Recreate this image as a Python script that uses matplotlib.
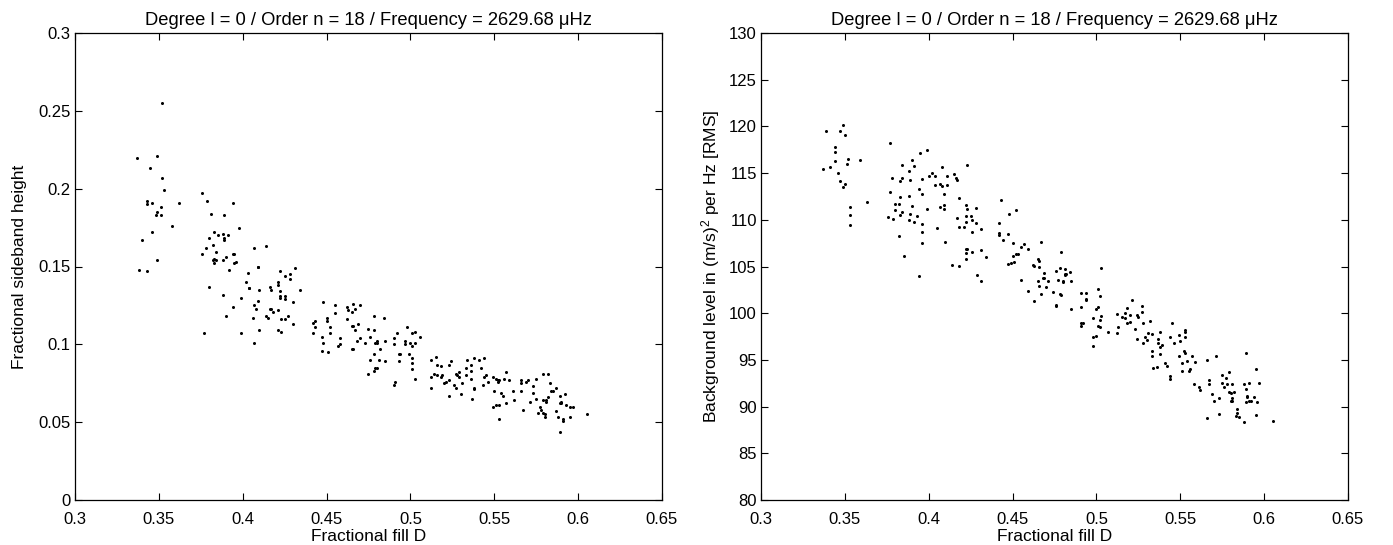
import numpy as np
import matplotlib
matplotlib.use('Agg')
import matplotlib.pyplot as plt
from matplotlib.ticker import FormatStrFormatter

plt.rcParams['font.family'] = ['Liberation Sans', 'DejaVu Sans']
plt.rcParams['mathtext.fontset'] = 'custom'
plt.rcParams['mathtext.rm'] = 'Liberation Sans'
plt.rcParams['mathtext.it'] = 'Liberation Sans'

title = 'Degree l = 0 / Order n = 18 / Frequency = 2629.68 \u03bcHz'

# left panel: fractional fill D vs fractional sideband height
fill_left = [
    0.352, 0.337, 0.349, 0.345, 0.352, 0.353, 0.376, 0.379, 0.394, 0.343, 0.343, 0.346, 0.351, 0.362,
    0.349, 0.348, 0.351, 0.381, 0.389, 0.358, 0.398, 0.346, 0.340, 0.383, 0.388, 0.385, 0.391, 0.380,
    0.389, 0.389, 0.382, 0.378, 0.407, 0.414, 0.376, 0.384, 0.394, 0.395, 0.382, 0.383, 0.384, 0.388,
    0.390, 0.396, 0.395, 0.383, 0.349, 0.338, 0.343, 0.392, 0.409, 0.409, 0.403, 0.402, 0.404, 0.404,
    0.410, 0.380, 0.388, 0.399, 0.409, 0.407, 0.408, 0.394, 0.416, 0.414, 0.415, 0.406, 0.390, 0.377,
    0.399, 0.410, 0.407,
    0.416, 0.417, 0.422, 0.431, 0.425, 0.428, 0.428, 0.421, 0.421, 0.422, 0.434, 0.422, 0.422, 0.425,
    0.425, 0.430, 0.417, 0.418, 0.421, 0.423, 0.425, 0.427, 0.430, 0.421, 0.423, 0.448, 0.455, 0.455,
    0.450, 0.442, 0.443, 0.450, 0.443, 0.452, 0.442, 0.452, 0.447, 0.458, 0.448, 0.447, 0.451, 0.457,
    0.458, 0.462, 0.463, 0.466, 0.467, 0.470, 0.465, 0.462, 0.465, 0.466, 0.469, 0.467, 0.470, 0.468,
    0.465, 0.466, 0.478, 0.484, 0.475, 0.478, 0.476, 0.479, 0.480, 0.480, 0.485, 0.473, 0.482, 0.478,
    0.476, 0.481, 0.485, 0.479, 0.480, 0.478, 0.475, 0.491, 0.490, 0.492, 0.490, 0.490, 0.493, 0.494,
    0.493, 0.498, 0.501, 0.503, 0.497, 0.497, 0.500, 0.501, 0.503, 0.499, 0.501, 0.501, 0.501, 0.503,
    0.506, 0.512, 0.515, 0.516, 0.518, 0.523, 0.524, 0.512, 0.514, 0.516, 0.518, 0.519, 0.520, 0.521,
    0.512, 0.523, 0.526, 0.527, 0.527, 0.528, 0.529, 0.529, 0.531, 0.533, 0.534, 0.536, 0.536, 0.533,
    0.536, 0.538, 0.541, 0.544, 0.542, 0.545, 0.544, 0.538, 0.538, 0.543, 0.546, 0.523, 0.530, 0.537,
    0.549, 0.551, 0.552, 0.552, 0.553, 0.557, 0.556, 0.559, 0.566, 0.566, 0.569, 0.570, 0.575, 0.579,
    0.582, 0.550, 0.554, 0.555, 0.561, 0.566, 0.573, 0.573, 0.583, 0.584, 0.585, 0.587, 0.592, 0.549,
    0.551, 0.553, 0.557, 0.562, 0.571, 0.575, 0.579, 0.581, 0.582, 0.581, 0.589, 0.589, 0.590, 0.590,
    0.593, 0.595, 0.597, 0.567, 0.577, 0.578, 0.579, 0.576, 0.580, 0.580, 0.587, 0.588, 0.591, 0.591,
    0.595, 0.605, 0.553, 0.589,
]
sideband = [
    0.255, 0.220, 0.221, 0.213, 0.207, 0.199, 0.197, 0.192, 0.191, 0.192, 0.190, 0.191, 0.188, 0.191,
    0.185, 0.183, 0.183, 0.184, 0.183, 0.176, 0.175, 0.172, 0.167, 0.172, 0.171, 0.170, 0.170, 0.168,
    0.168, 0.167, 0.164, 0.162, 0.162, 0.163, 0.158, 0.159, 0.158, 0.158, 0.154, 0.155, 0.154, 0.154,
    0.156, 0.153, 0.152, 0.152, 0.154, 0.148, 0.147, 0.148, 0.150, 0.150, 0.146, 0.140, 0.136, 0.136,
    0.135, 0.137, 0.132, 0.130, 0.128, 0.125, 0.123, 0.124, 0.123, 0.118, 0.117, 0.117, 0.118, 0.107,
    0.107, 0.109, 0.101,
    0.137, 0.135, 0.147, 0.149, 0.144, 0.145, 0.142, 0.140, 0.138, 0.134, 0.135, 0.131, 0.130, 0.131,
    0.129, 0.127, 0.123, 0.121, 0.122, 0.116, 0.116, 0.118, 0.113, 0.109, 0.108, 0.127, 0.125, 0.120,
    0.117, 0.114, 0.115, 0.115, 0.111, 0.111, 0.107, 0.107, 0.105, 0.104, 0.101, 0.096, 0.095, 0.099,
    0.100, 0.124, 0.122, 0.126, 0.123, 0.125, 0.121, 0.116, 0.112, 0.112, 0.113, 0.109, 0.104, 0.102,
    0.097, 0.097, 0.118, 0.117, 0.110, 0.109, 0.105, 0.101, 0.101, 0.102, 0.102, 0.101, 0.097, 0.094,
    0.090, 0.090, 0.089, 0.085, 0.085, 0.083, 0.081, 0.076, 0.074, 0.107, 0.104, 0.100, 0.094, 0.094,
    0.089, 0.111, 0.107, 0.108, 0.102, 0.100, 0.101, 0.099, 0.101, 0.094, 0.091, 0.088, 0.084, 0.078,
    0.105, 0.090, 0.092, 0.087, 0.086, 0.087, 0.089, 0.079, 0.081, 0.080, 0.079, 0.080, 0.075, 0.076,
    0.072, 0.077, 0.074, 0.072, 0.081, 0.080, 0.082, 0.079, 0.075, 0.085, 0.090, 0.087, 0.083, 0.080,
    0.078, 0.091, 0.090, 0.091, 0.085, 0.080, 0.079, 0.072, 0.071, 0.074, 0.076, 0.067, 0.068, 0.065,
    0.079, 0.078, 0.077, 0.076, 0.077, 0.082, 0.078, 0.077, 0.077, 0.075, 0.076, 0.077, 0.078, 0.081,
    0.081, 0.070, 0.069, 0.067, 0.070, 0.070, 0.073, 0.069, 0.075, 0.070, 0.070, 0.072, 0.068, 0.060,
    0.061, 0.061, 0.062, 0.064, 0.063, 0.065, 0.064, 0.064, 0.066, 0.063, 0.067, 0.062, 0.063, 0.062,
    0.061, 0.060, 0.060, 0.058, 0.060, 0.058, 0.056, 0.056, 0.055, 0.053, 0.057, 0.053, 0.052, 0.051,
    0.053, 0.055, 0.052, 0.044,
]

# right panel: fractional fill D vs background level
fill_right = [
    0.349, 0.339, 0.347, 0.350, 0.344, 0.344, 0.344, 0.352, 0.351, 0.359, 0.341, 0.337, 0.346, 0.347,
    0.350, 0.349, 0.363, 0.353, 0.353, 0.353, 0.377, 0.395, 0.399, 0.390, 0.384, 0.391, 0.388, 0.378,
    0.384, 0.383, 0.389, 0.396, 0.400, 0.402, 0.404, 0.408, 0.411, 0.415, 0.416, 0.417, 0.404, 0.407,
    0.408, 0.411, 0.423, 0.377, 0.383, 0.388, 0.394, 0.396, 0.409, 0.380, 0.382, 0.390, 0.380, 0.384,
    0.383, 0.389, 0.393, 0.376, 0.379, 0.388, 0.391, 0.399, 0.407, 0.409, 0.409, 0.418, 0.422, 0.423,
    0.396, 0.405, 0.396, 0.382, 0.396, 0.410, 0.385, 0.394, 0.417, 0.422, 0.422, 0.418, 0.421, 0.422,
    0.423, 0.422, 0.422, 0.414, 0.418,
    0.443, 0.428, 0.425, 0.426, 0.428, 0.431, 0.426, 0.442, 0.448, 0.452, 0.442, 0.442, 0.447, 0.444,
    0.450, 0.455, 0.457, 0.459, 0.467, 0.426, 0.431, 0.434, 0.450, 0.452, 0.453, 0.447, 0.449, 0.451,
    0.462, 0.463, 0.465, 0.466, 0.466, 0.479, 0.429, 0.431, 0.455, 0.469, 0.468, 0.469, 0.465, 0.471,
    0.459, 0.466, 0.470, 0.467, 0.474, 0.463, 0.476, 0.478, 0.481, 0.481, 0.481, 0.482, 0.484, 0.477,
    0.480, 0.480, 0.485, 0.478, 0.479, 0.476, 0.476, 0.485, 0.503, 0.491, 0.494, 0.501, 0.502, 0.494,
    0.494, 0.491, 0.501, 0.500, 0.498, 0.503, 0.502, 0.491, 0.492, 0.491, 0.501, 0.502, 0.507, 0.498,
    0.500, 0.498, 0.512, 0.513, 0.512,
    0.521, 0.518, 0.527, 0.517, 0.515, 0.517, 0.520, 0.524, 0.525, 0.527, 0.520, 0.518, 0.528, 0.532,
    0.545, 0.523, 0.531, 0.533, 0.538, 0.529, 0.530, 0.524, 0.528, 0.537, 0.537, 0.539, 0.538, 0.544,
    0.549, 0.553, 0.553, 0.553, 0.550, 0.546, 0.533, 0.533, 0.538, 0.534, 0.536, 0.541, 0.542, 0.544,
    0.544, 0.549, 0.552, 0.553, 0.554, 0.551, 0.557, 0.559, 0.556, 0.555, 0.551, 0.566, 0.571, 0.589,
    0.558, 0.561, 0.562, 0.567, 0.567, 0.569, 0.573, 0.570, 0.575, 0.577, 0.579, 0.575, 0.578, 0.581,
    0.576, 0.579, 0.580, 0.582, 0.581, 0.580, 0.581, 0.588, 0.591, 0.589, 0.595, 0.597, 0.590, 0.590,
    0.594, 0.589, 0.591, 0.592, 0.596, 0.584, 0.584, 0.583, 0.585, 0.588, 0.573, 0.566, 0.595, 0.605,
]
background = [
    120.2, 119.5, 119.5, 119.1, 117.8, 117.3, 116.3, 116.5, 116.0, 116.4, 115.6, 115.4, 115.0, 114.2,
    113.8, 113.5, 111.9, 111.4, 110.5, 109.4, 118.2, 117.2, 117.5, 116.4, 115.9, 115.8, 115.2, 114.5,
    114.5, 114.2, 114.3, 114.4, 114.7, 115.0, 114.7, 115.6, 114.7, 114.9, 114.5, 114.3, 113.7, 113.8,
    113.6, 113.7, 115.9, 113.0, 112.4, 112.5, 113.3, 112.8, 112.8, 111.7, 111.7, 111.5, 111.0, 110.8,
    110.5, 110.6, 110.4, 110.3, 110.1, 110.0, 109.8, 111.2, 111.4, 111.6, 111.2, 112.3, 111.6, 111.2,
    109.5, 109.1, 108.7, 108.3, 107.5, 107.6, 106.1, 104.0, 110.2, 110.4, 109.8, 109.2, 109.2, 106.9,
    106.9, 106.4, 105.8, 105.2, 105.1,
    112.1, 111.3, 110.4, 110.0, 109.7, 109.0, 108.7, 109.7, 110.6, 111.1, 108.6, 108.4, 108.5, 107.8,
    107.5, 107.1, 107.4, 106.9, 107.6, 106.6, 106.8, 106.0, 106.1, 106.3, 106.3, 105.3, 105.4, 105.5,
    105.2, 105.1, 105.8, 105.6, 104.9, 106.6, 104.1, 103.4, 103.6, 104.3, 103.8, 103.8, 103.5, 103.5,
    102.4, 102.9, 102.8, 102.1, 102.3, 101.3, 104.5, 104.8, 104.7, 104.2, 104.1, 104.2, 104.4, 103.6,
    103.5, 103.3, 103.5, 102.1, 101.95, 100.9, 100.8, 100.5, 104.8, 102.2, 102.2, 102.6, 101.8, 101.5,
    101.4, 100.7, 100.7, 100.5, 99.5, 99.7, 99.3, 98.9, 98.9, 98.6, 98.6, 98.5, 98.0, 97.5,
    97.6, 96.5, 99.9, 98.5, 97.9,
    101.4, 100.6, 100.8, 100.0, 99.6, 99.5, 99.8, 99.8, 99.6, 100.1, 99.1, 98.9, 98.9, 99.2,
    99.0, 98.3, 97.9, 97.8, 98.0, 97.5, 97.1, 97.2, 96.8, 97.2, 96.8, 96.6, 96.4, 97.4,
    97.7, 98.2, 98.0, 97.5, 97.0, 96.8, 96.0, 95.4, 95.6, 94.1, 94.2, 94.7, 94.3, 93.3,
    93.0, 95.4, 96.0, 95.7, 94.9, 94.7, 95.4, 94.8, 94.0, 93.8, 93.8, 95.0, 95.4, 95.7,
    92.4, 92.1, 91.8, 92.8, 92.4, 91.4, 90.9, 90.6, 93.4, 93.1, 93.7, 92.5, 92.4, 92.4,
    92.1, 91.6, 91.5, 91.6, 90.9, 90.6, 90.6, 92.4, 92.5, 91.9, 94.0, 92.5, 91.1, 91.0,
    91.0, 90.5, 90.6, 90.6, 90.5, 89.7, 89.3, 89.0, 88.9, 88.4, 89.2, 88.8, 89.1, 88.5,
]

x_ticks = [0.3, 0.35, 0.4, 0.45, 0.5, 0.55, 0.6, 0.65]
left_yticks = [0, 0.05, 0.1, 0.15, 0.2, 0.25, 0.3]
right_yticks = [80, 85, 90, 95, 100, 105, 110, 115, 120, 125, 130]

fig = plt.figure(figsize=(13.93, 5.45), dpi=100)
ax1 = fig.add_axes([75 / 1393, 45 / 545, 587 / 1393, 467 / 545])
ax2 = fig.add_axes([761 / 1393, 45 / 545, 587 / 1393, 467 / 545])

ax1.plot(fill_left, sideband, 'o', color='k', markersize=2.2, markeredgewidth=0)
ax2.plot(fill_right, background, 'o', color='k', markersize=2.2, markeredgewidth=0)

ax1.set_ylim(0, 0.3)
ax1.set_yticks(left_yticks)
ax1.set_ylabel('Fractional sideband height', fontsize=12.5, labelpad=8)
ax2.set_ylim(80, 130)
ax2.set_yticks(right_yticks)
ax2.set_ylabel('Background level in (m/s)$^2$ per Hz [RMS]', fontsize=12.5, labelpad=5)

for ax in (ax1, ax2):
    ax.set_xlim(0.3, 0.65)
    ax.set_xticks(x_ticks)
    ax.xaxis.set_major_formatter(FormatStrFormatter('%g'))
    ax.yaxis.set_major_formatter(FormatStrFormatter('%g'))
    ax.set_xlabel('Fractional fill D', fontsize=12.5, labelpad=1)
    ax.set_title(title, fontsize=13.2, pad=6)
    ax.tick_params(direction='in', top=True, right=True, length=5, width=0.8,
                   labelsize=12, pad=3)
    ax.tick_params(axis='x', pad=9)
    for s in ax.spines.values():
        s.set_linewidth(0.9)

fig.savefig('out.png', dpi=100)
